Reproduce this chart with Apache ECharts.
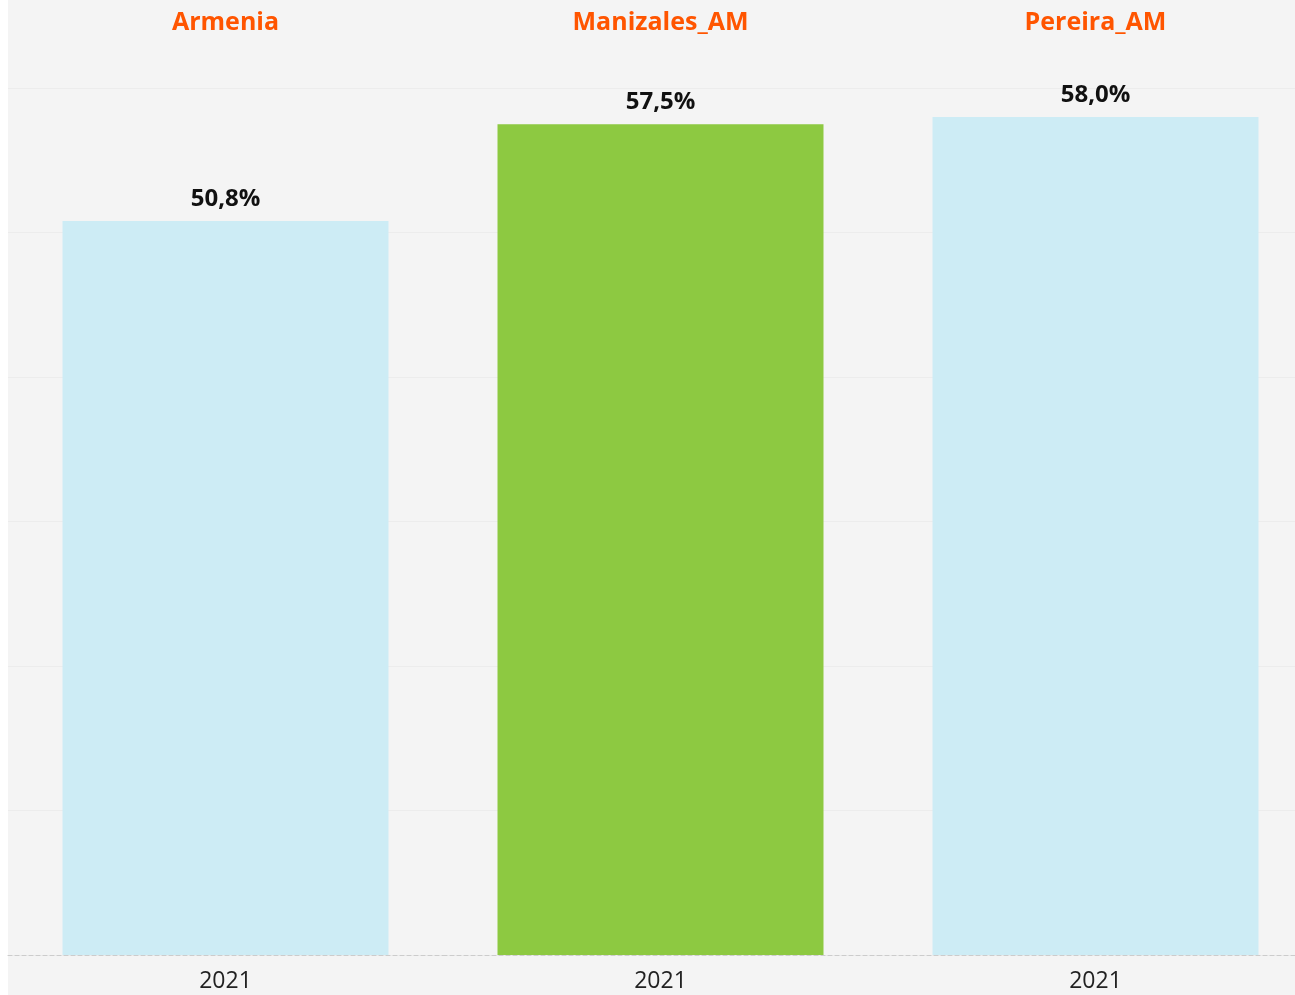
<!DOCTYPE html>
<html>
<head>
<meta charset="utf-8">
<script src="https://cdn.jsdelivr.net/npm/echarts@6/dist/echarts.min.js"></script>
<style>
  html, body { margin: 0; padding: 0; background: #fff; }
  #chart { width: 1295px; height: 995px; }
</style>
</head>
<body>
<div id="chart"></div>
<script>
// facet names, one year per facet
const facets = ["Armenia", "Manizales_AM", "Pereira_AM"];
const years = ["2021"];
const values = [50.8, 57.5, 58.0];
const barColors = ["#cdecf5", "#8dc941", "#cdecf5"];

const chart = echarts.init(document.getElementById("chart"));

const panelWidth = 435;
const panelLeft = 8;

let grids = [];
let xAxes = [];
let yAxes = [];
let series = [];
let titles = [];

facets.forEach((name, i) => {
  const left = panelLeft + i * panelWidth;
  grids.push({
    left: left,
    width: panelWidth,
    top: 88,
    bottom: 40,
    outerBoundsMode: "none",
  });
  titles.push({
    text: name,
    left: left + panelWidth / 2,
    top: 10,
    padding: 0,
    textAlign: "center",
    textStyle: {
      color: "#ff5500",
      fontFamily: "Open Sans",
      fontWeight: "bold",
      fontSize: 25,
    },
  });
  xAxes.push({
    type: "category",
    gridIndex: i,
    data: years,
    axisTick: { show: false },
    axisLine: {
      show: true,
      lineStyle: { color: "#cccccc", type: [4, 3], width: 1 },
    },
    axisLabel: {
      color: "#222",
      fontFamily: "Open Sans",
      fontSize: 23,
      margin: 15,
    },
  });
  yAxes.push({
    type: "value",
    gridIndex: i,
    min: 0,
    max: 60,
    interval: 10,
    axisLabel: { show: false },
    axisLine: { show: false },
    axisTick: { show: false },
    splitLine: { lineStyle: { color: "#ececec", width: 1 } },
  });
  series.push({
    type: "bar",
    xAxisIndex: i,
    yAxisIndex: i,
    data: [values[i]],
    barWidth: 326,
    itemStyle: { color: barColors[i] },
    label: {
      show: true,
      position: "top",
      distance: 10,
      color: "#111",
      fontFamily: "Open Sans",
      fontWeight: "bold",
      fontSize: 24,
      formatter: (p) => p.value.toFixed(1).replace(".", ",") + "%",
    },
  });
});

chart.setOption({
  animation: false,
  backgroundColor: "#fff",
  graphic: [
    {
      type: "rect",
      z: -10,
      shape: { x: 8, y: 0, width: 1287, height: 995 },
      style: { fill: "#f4f4f4" },
    },
  ],
  title: titles,
  grid: grids,
  xAxis: xAxes,
  yAxis: yAxes,
  series: series,
});
</script>
</body>
</html>
